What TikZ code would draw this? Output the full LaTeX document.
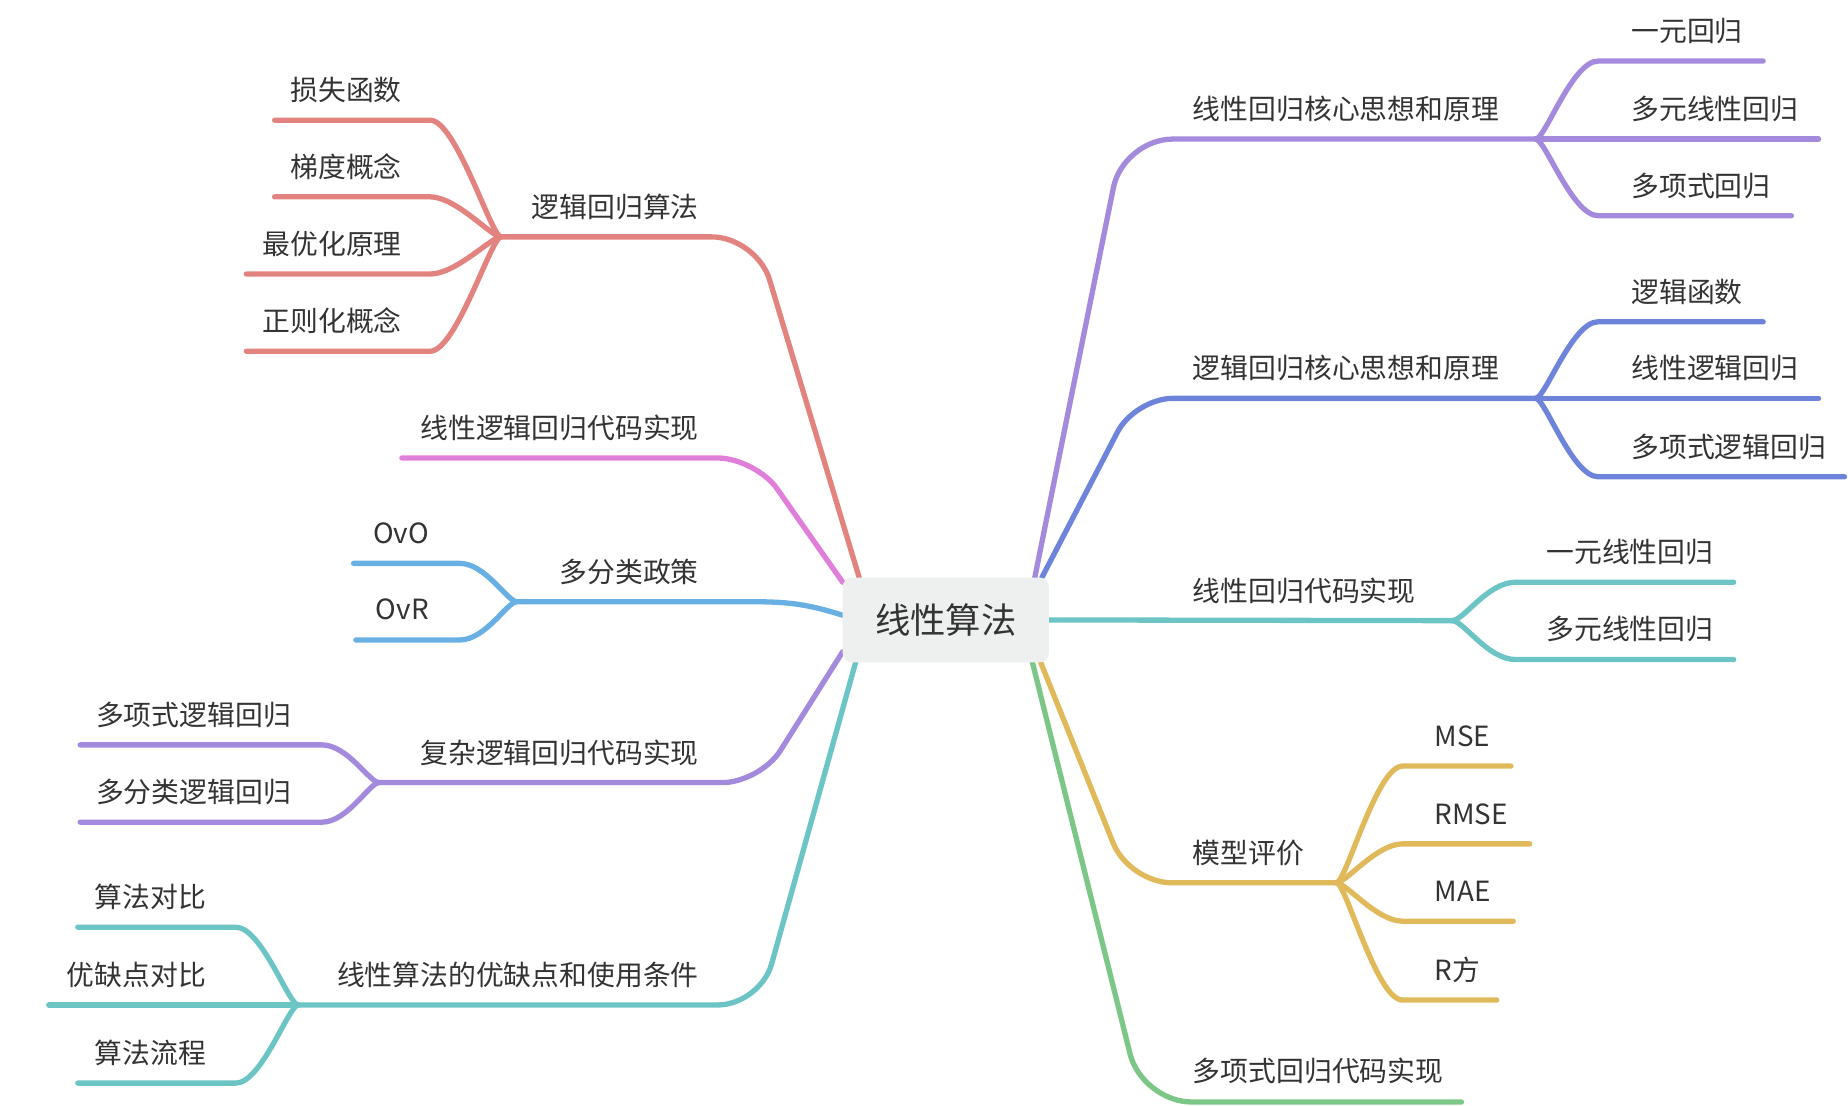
\documentclass[tikz,border=0pt]{standalone}
\usepackage{fontspec}
\newfontfamily\cjk{Noto Sans CJK SC}
\usetikzlibrary{backgrounds}
\definecolor{cSalmon}{HTML}{E3837F}
\definecolor{cPink}{HTML}{E07FD9}
\definecolor{cBlue}{HTML}{68AFE3}
\definecolor{cPurple}{HTML}{A38ADD}
\definecolor{cTeal}{HTML}{6DC4C4}
\definecolor{cIndigo}{HTML}{6E84DB}
\definecolor{cGold}{HTML}{E0B95B}
\definecolor{cGreen}{HTML}{7CC787}
\definecolor{rootfill}{HTML}{EEF0F0}
\definecolor{txt}{HTML}{333333}
\tikzset{
  lbl/.style={font=\cjk\fontsize{23.6}{28}\selectfont, text=txt, inner sep=0pt},
  tw/.style={lbl, anchor=base west},
  te/.style={lbl, anchor=base east},
  rootbox/.style={fill=rootfill, rounded corners=8pt, minimum width=175pt, minimum height=72pt, inner sep=0pt, font=\cjk\fontsize{30}{36}\selectfont, text=txt},
  conn/.style={line width=4.5pt, line cap=round, line join=round},
}
\begin{document}
\begin{tikzpicture}[x=1pt,y=-1pt]
\useasboundingbox (0,0) rectangle (1568,938);
\node[rootbox] (root) at (802.5,526) {线性算法};

% ---------- labels right ----------
\node[tw] (A)  at (1012,101.5) {线性回归核心思想和原理};
\node[tw] (A1) at (1384,35.3)  {一元回归};
\node[tw] (A2) at (1384,101.5) {多元线性回归};
\node[tw] (A3) at (1384,166.5) {多项式回归};
\node[tw] (B)  at (1012,321.5) {逻辑回归核心思想和原理};
\node[tw] (B1) at (1384,256.5) {逻辑函数};
\node[tw] (B2) at (1384,321.5) {线性逻辑回归};
\node[tw] (B3) at (1384,388)   {多项式逻辑回归};
\node[tw] (C)  at (1012,510)   {线性回归代码实现};
\node[tw] (C1) at (1312,477.5) {一元线性回归};
\node[tw] (C2) at (1312,543)   {多元线性回归};
\node[tw] (D)  at (1012,732.5) {模型评价};
\node[tw] (D1) at (1217,633.5) {MSE};
\node[tw] (D2) at (1217,699.5) {RMSE};
\node[tw] (D3) at (1217,765)   {MAE};
\node[tw] (D4) at (1217,832)   {R方};
\node[tw] (E)  at (1012,918)   {多项式回归代码实现};

% ---------- labels left ----------
\node[te] (F)  at (593,184.5) {逻辑回归算法};
\node[te] (F1) at (341,85.5)  {损失函数};
\node[te] (F2) at (341,150.5) {梯度概念};
\node[te] (F3) at (341,216)   {最优化原理};
\node[te] (F4) at (341,281.5) {正则化概念};
\node[te] (G)  at (593,372)   {线性逻辑回归代码实现};
\node[te] (H)  at (593,494)   {多分类政策};
\node[te] (H1) at (364,461)   {OvO};
\node[te] (H2) at (364,526)   {OvR};
\node[te] (I)  at (593,647.5) {复杂逻辑回归代码实现};
\node[te] (I1) at (247,615.5) {多项式逻辑回归};
\node[te] (I2) at (247,681)   {多分类逻辑回归};
\node[te] (J)  at (593,836)   {线性算法的优缺点和使用条件};
\node[te] (J1) at (175,770)   {算法对比};
\node[te] (J2) at (175,836)   {优缺点对比};
\node[te] (J3) at (175,902.5) {算法流程};

% ---------- fork coordinates ----------
\coordinate (Af) at (1303,118);
\coordinate (Bf) at (1303,338);
\coordinate (Cf) at (1232,526.6);
\coordinate (Df) at (1134,749);
\coordinate (Ff) at (425,201);
\coordinate (Hf) at (438.5,510.5);
\coordinate (If) at (321.6,664);
\coordinate (Jf) at (253,852.7);

\begin{scope}[on background layer]
% A purple
\draw[conn,cPurple,rounded corners=42pt] (878,490) -- (953,118) -- (Af);
\draw[conn,cPurple] (Af) .. controls +(8,0) and +(-22,0) .. (1356,51.8) -- (1496,51.8);
\draw[conn,cPurple] (Af) -- (1543,118);
\draw[conn,cPurple] (Af) .. controls +(8,0) and +(-22,0) .. (1356,183) -- (1520,183);
% B indigo
\draw[conn,cIndigo,rounded corners=32pt] (884,490) -- (963,338) -- (Bf);
\draw[conn,cIndigo] (Bf) .. controls +(8,0) and +(-22,0) .. (1356,273) -- (1496,273);
\draw[conn,cIndigo] (Bf) -- (1543,338);
\draw[conn,cIndigo] (Bf) .. controls +(8,0) and +(-22,0) .. (1356,404.5) -- (1565,404.5);
% C teal
\draw[conn,cTeal] (root.east) -- (Cf);
\draw[conn,cTeal] (Cf) .. controls +(10,0) and +(-24,0) .. (1286,494) -- (1471,494);
\draw[conn,cTeal] (Cf) .. controls +(10,0) and +(-24,0) .. (1286,559.6) -- (1471,559.6);
% D gold
\draw[conn,cGold,rounded corners=36pt] (883,562) -- (958,749) -- (Df);
\draw[conn,cGold] (Df) .. controls +(8,0) and +(-22,0) .. (1190,650) -- (1282,650);
\draw[conn,cGold] (Df) .. controls +(8,0) and +(-22,0) .. (1190,716) -- (1298,716);
\draw[conn,cGold] (Df) .. controls +(8,0) and +(-22,0) .. (1190,781.6) -- (1284,781.6);
\draw[conn,cGold] (Df) .. controls +(8,0) and +(-22,0) .. (1190,848.5) -- (1270,848.5);
% E green
\draw[conn,cGreen,rounded corners=42pt] (876,562) -- (969,935) -- (1240,935);
% F salmon
\draw[conn,cSalmon,rounded corners=38pt] (729,490) -- (642,201) -- (Ff);
\draw[conn,cSalmon] (Ff) .. controls +(-8,0) and +(22,0) .. (365,102) -- (233,102);
\draw[conn,cSalmon] (Ff) .. controls +(-8,0) and +(22,0) .. (365,167) -- (233,167);
\draw[conn,cSalmon] (Ff) .. controls +(-8,0) and +(22,0) .. (365,232.5) -- (209,232.5);
\draw[conn,cSalmon] (Ff) .. controls +(-8,0) and +(22,0) .. (365,298) -- (209,298);
% G pink
\draw[conn,cPink,rounded corners=32pt] (715,494) -- (641,388.6) -- (341,388.6);
% H blue
\draw[conn,cBlue] (715,522) .. controls (680,511) and (665,510.5) .. (628,510.5) -- (Hf);
\draw[conn,cBlue] (Hf) .. controls +(-8,0) and +(22,0) .. (390,478) -- (300,478);
\draw[conn,cBlue] (Hf) .. controls +(-8,0) and +(22,0) .. (390,543) -- (302,543);
% I purple
\draw[conn,cPurple,rounded corners=32pt] (715,553) -- (645,664) -- (If);
\draw[conn,cPurple] (If) .. controls +(-8,0) and +(22,0) .. (273,632) -- (68,632);
\draw[conn,cPurple] (If) .. controls +(-8,0) and +(22,0) .. (273,697.6) -- (68,697.6);
% J teal
\draw[conn,cTeal,rounded corners=36pt] (726,562) -- (645,852.7) -- (Jf);
\draw[conn,cTeal] (Jf) .. controls +(-8,0) and +(22,0) .. (200,786.7) -- (66,786.7);
\draw[conn,cTeal] (Jf) -- (41.4,852.7);
\draw[conn,cTeal] (Jf) .. controls +(-8,0) and +(22,0) .. (200,919) -- (66,919);
\end{scope}
\end{tikzpicture}
\end{document}
